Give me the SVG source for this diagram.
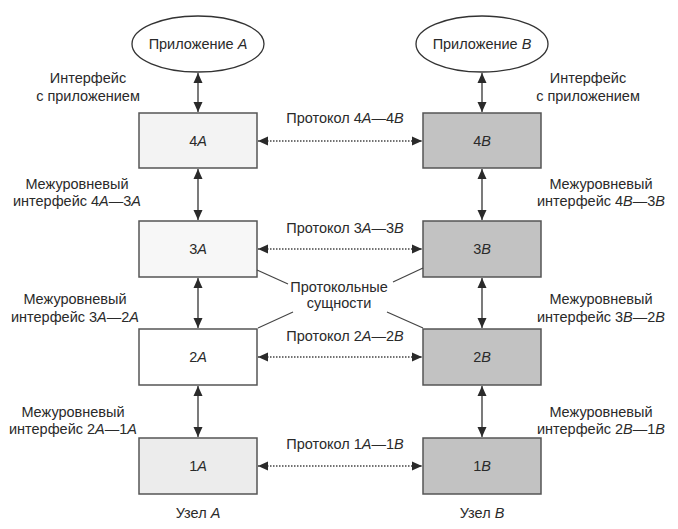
<svg xmlns="http://www.w3.org/2000/svg" width="678" height="529" viewBox="0 0 678 529">
<defs>
<marker id="ah" viewBox="0 0 10 10" refX="10" refY="5" markerWidth="10" markerHeight="10" markerUnits="userSpaceOnUse" orient="auto-start-reverse">
<path d="M0,0.5 L10,5 L0,9.5 Z" fill="#2a2a2a"/>
</marker>
</defs>
<style>
text{font-family:"Liberation Sans",Arial,sans-serif;font-size:14.5px;fill:#2a2a2a;text-anchor:middle}
.i{font-style:italic}
.box{stroke:#555;stroke-width:1.5}
.rb{fill:#c2c2c2}
.v{stroke:#333;stroke-width:1.3;fill:none;marker-start:url(#ah);marker-end:url(#ah)}
.h{stroke:#444;stroke-width:1.5;stroke-dasharray:1.5 1.5;fill:none;marker-start:url(#ah);marker-end:url(#ah)}
.p{stroke:#444;stroke-width:1.2;fill:none}
.el{fill:#fff;stroke:#333;stroke-width:1.3}
</style>
<g id="appA"><ellipse class="el" cx="198" cy="44" rx="66" ry="28"/><text x="198" y="49">Приложение <tspan class="i">A</tspan></text></g>
<g id="appB"><ellipse class="el" cx="482" cy="44" rx="66" ry="28"/><text x="482" y="49">Приложение <tspan class="i">B</tspan></text></g>
<g id="n4A"><rect class="box" x="139" y="113" width="118" height="55" fill="#f3f3f3"/><text x="198" y="146">4<tspan class="i">A</tspan></text></g>
<g id="n3A"><rect class="box" x="139" y="221" width="118" height="56" fill="#f7f7f7"/><text x="198" y="254">3<tspan class="i">A</tspan></text></g>
<g id="n2A"><rect class="box" x="139" y="329" width="118" height="56" fill="#ffffff"/><text x="198" y="362">2<tspan class="i">A</tspan></text></g>
<g id="n1A"><rect class="box" x="139" y="438" width="118" height="56" fill="#ececec"/><text x="198" y="471">1<tspan class="i">A</tspan></text></g>
<g id="n4B"><rect class="box rb" x="423" y="113" width="118" height="55"/><text x="482" y="146">4<tspan class="i">B</tspan></text></g>
<g id="n3B"><rect class="box rb" x="423" y="221" width="118" height="56"/><text x="482" y="254">3<tspan class="i">B</tspan></text></g>
<g id="n2B"><rect class="box rb" x="423" y="329" width="118" height="56"/><text x="482" y="362">2<tspan class="i">B</tspan></text></g>
<g id="n1B"><rect class="box rb" x="423" y="438" width="118" height="56"/><text x="482" y="471">1<tspan class="i">B</tspan></text></g>
<g id="connectors">
<line class="v" x1="198" y1="73" x2="198" y2="112"/>
<line class="v" x1="198" y1="169" x2="198" y2="220"/>
<line class="v" x1="198" y1="278" x2="198" y2="328"/>
<line class="v" x1="198" y1="386" x2="198" y2="437"/>
<line class="v" x1="482" y1="73" x2="482" y2="112"/>
<line class="v" x1="482" y1="169" x2="482" y2="220"/>
<line class="v" x1="482" y1="278" x2="482" y2="328"/>
<line class="v" x1="482" y1="386" x2="482" y2="437"/>
<line class="h" x1="258" y1="141" x2="422" y2="141"/>
<line class="h" x1="258" y1="249" x2="422" y2="249"/>
<line class="h" x1="258" y1="357" x2="422" y2="357"/>
<line class="h" x1="258" y1="466" x2="422" y2="466"/>
<line class="p" x1="257" y1="270" x2="288" y2="284"/>
<line class="p" x1="423" y1="268" x2="393" y2="282"/>
<line class="p" x1="258" y1="328" x2="293" y2="312"/>
<line class="p" x1="387" y1="312" x2="423" y2="328"/>
</g>
<g id="labels">
<text x="345" y="123">Протокол 4<tspan class="i">A</tspan>—4<tspan class="i">B</tspan></text>
<text x="345" y="233">Протокол 3<tspan class="i">A</tspan>—3<tspan class="i">B</tspan></text>
<text x="345" y="341">Протокол 2<tspan class="i">A</tspan>—2<tspan class="i">B</tspan></text>
<text x="345" y="449">Протокол 1<tspan class="i">A</tspan>—1<tspan class="i">B</tspan></text>
<text x="339" y="292">Протокольные</text>
<text x="339" y="308">сущности</text>
<text x="88" y="83">Интерфейс</text>
<text x="88" y="101">с приложением</text>
<text x="588" y="83">Интерфейс</text>
<text x="588" y="101">с приложением</text>
<text x="77" y="189">Межуровневый</text>
<text x="77" y="206">интерфейс 4<tspan class="i">A</tspan>—3<tspan class="i">A</tspan></text>
<text x="75" y="304">Межуровневый</text>
<text x="75" y="322">интерфейс 3<tspan class="i">A</tspan>—2<tspan class="i">A</tspan></text>
<text x="73" y="417">Межуровневый</text>
<text x="73" y="434">интерфейс 2<tspan class="i">A</tspan>—1<tspan class="i">A</tspan></text>
<text x="601" y="189">Межуровневый</text>
<text x="601" y="206">интерфейс 4<tspan class="i">B</tspan>—3<tspan class="i">B</tspan></text>
<text x="601" y="304">Межуровневый</text>
<text x="601" y="322">интерфейс 3<tspan class="i">B</tspan>—2<tspan class="i">B</tspan></text>
<text x="601" y="417">Межуровневый</text>
<text x="601" y="434">интерфейс 2<tspan class="i">B</tspan>—1<tspan class="i">B</tspan></text>
<text x="198" y="518">Узел <tspan class="i">A</tspan></text>
<text x="482" y="518">Узел <tspan class="i">B</tspan></text>
</g>
</svg>
